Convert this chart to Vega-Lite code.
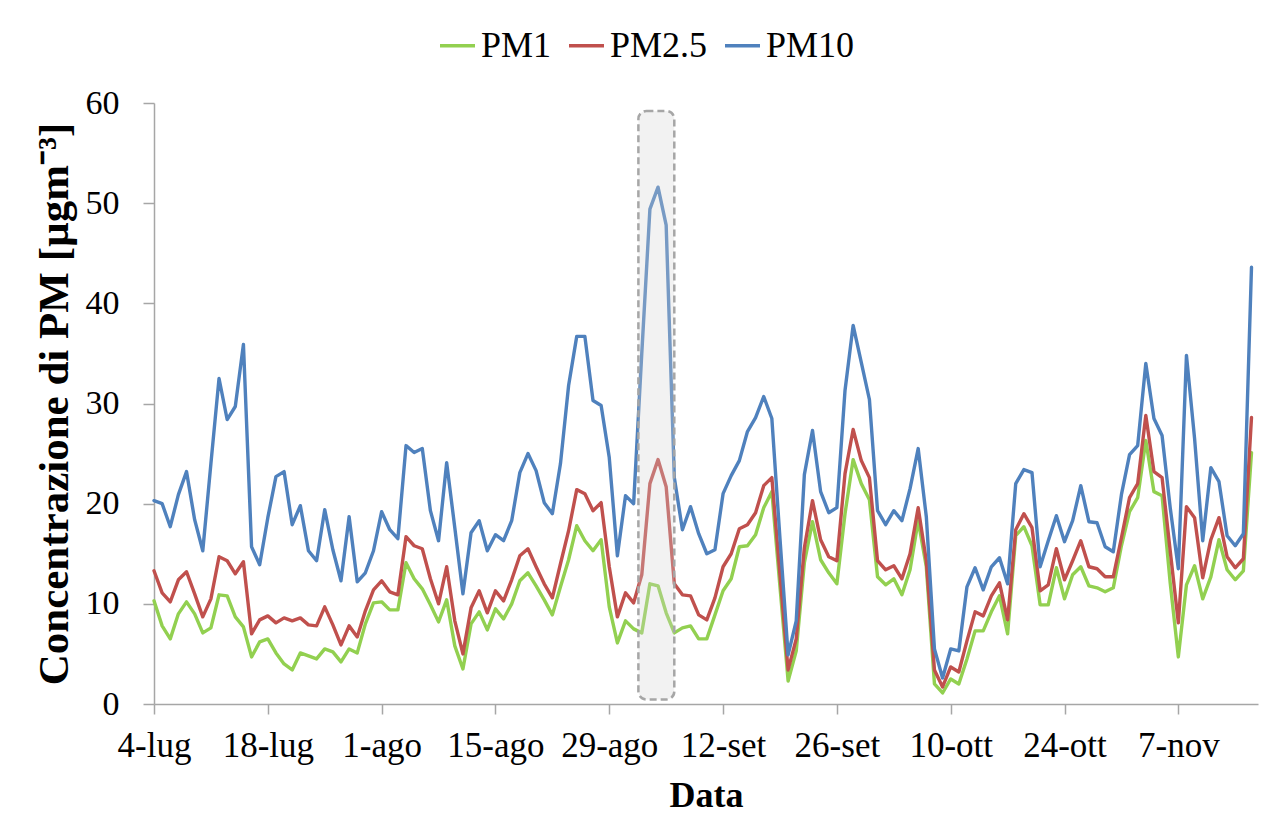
{
  "$schema": "https://vega.github.io/schema/vega-lite/v6.json",
  "autosize": {"type": "none"},
  "width": 1104,
  "height": 601,
  "padding": {"left": 154, "top": 103, "right": 7, "bottom": 130},
  "background": "white",
  "config": {
    "view": {"stroke": null},
    "font": "Liberation Serif",
    "axis": {"grid": false, "domainColor": "#a6a6a6", "tickColor": "#a6a6a6", "domainWidth": 1.5, "tickWidth": 1.5, "labelColor": "#000000", "titleColor": "#000000", "labelFont": "Liberation Serif", "titleFont": "Liberation Serif"}
  },
  "layer": [
    {
      "data": {"values": [
        {"d":"2023-07-04","PM1":10.3,"PM25":13.3,"PM10":20.3},
        {"d":"2023-07-05","PM1":7.8,"PM25":11.1,"PM10":20.0},
        {"d":"2023-07-06","PM1":6.5,"PM25":10.2,"PM10":17.7},
        {"d":"2023-07-07","PM1":9.0,"PM25":12.4,"PM10":20.9},
        {"d":"2023-07-08","PM1":10.2,"PM25":13.2,"PM10":23.2},
        {"d":"2023-07-09","PM1":9.0,"PM25":11.0,"PM10":18.4},
        {"d":"2023-07-10","PM1":7.1,"PM25":8.7,"PM10":15.3},
        {"d":"2023-07-11","PM1":7.6,"PM25":10.5,"PM10":24.0},
        {"d":"2023-07-12","PM1":10.9,"PM25":14.7,"PM10":32.5},
        {"d":"2023-07-13","PM1":10.8,"PM25":14.3,"PM10":28.4},
        {"d":"2023-07-14","PM1":8.7,"PM25":13.0,"PM10":29.7},
        {"d":"2023-07-15","PM1":7.7,"PM25":14.2,"PM10":35.9},
        {"d":"2023-07-16","PM1":4.7,"PM25":7.0,"PM10":15.7},
        {"d":"2023-07-17","PM1":6.2,"PM25":8.4,"PM10":13.9},
        {"d":"2023-07-18","PM1":6.5,"PM25":8.8,"PM10":18.6},
        {"d":"2023-07-19","PM1":5.1,"PM25":8.1,"PM10":22.7},
        {"d":"2023-07-20","PM1":4.0,"PM25":8.6,"PM10":23.2},
        {"d":"2023-07-21","PM1":3.4,"PM25":8.3,"PM10":17.9},
        {"d":"2023-07-22","PM1":5.1,"PM25":8.6,"PM10":19.8},
        {"d":"2023-07-23","PM1":4.8,"PM25":7.9,"PM10":15.3},
        {"d":"2023-07-24","PM1":4.5,"PM25":7.8,"PM10":14.3},
        {"d":"2023-07-25","PM1":5.5,"PM25":9.7,"PM10":19.4},
        {"d":"2023-07-26","PM1":5.2,"PM25":7.9,"PM10":15.4},
        {"d":"2023-07-27","PM1":4.2,"PM25":5.9,"PM10":12.3},
        {"d":"2023-07-28","PM1":5.5,"PM25":7.8,"PM10":18.7},
        {"d":"2023-07-29","PM1":5.1,"PM25":6.7,"PM10":12.2},
        {"d":"2023-07-30","PM1":8.0,"PM25":9.3,"PM10":13.1},
        {"d":"2023-07-31","PM1":10.1,"PM25":11.4,"PM10":15.3},
        {"d":"2023-08-01","PM1":10.2,"PM25":12.3,"PM10":19.2},
        {"d":"2023-08-02","PM1":9.4,"PM25":11.2,"PM10":17.4},
        {"d":"2023-08-03","PM1":9.4,"PM25":10.9,"PM10":16.5},
        {"d":"2023-08-04","PM1":14.1,"PM25":16.7,"PM10":25.8},
        {"d":"2023-08-05","PM1":12.5,"PM25":15.8,"PM10":25.1},
        {"d":"2023-08-06","PM1":11.5,"PM25":15.5,"PM10":25.5},
        {"d":"2023-08-07","PM1":9.9,"PM25":12.5,"PM10":19.3},
        {"d":"2023-08-08","PM1":8.2,"PM25":10.0,"PM10":16.3},
        {"d":"2023-08-09","PM1":10.4,"PM25":13.7,"PM10":24.1},
        {"d":"2023-08-10","PM1":5.8,"PM25":8.3,"PM10":17.6},
        {"d":"2023-08-11","PM1":3.5,"PM25":5.0,"PM10":11.0},
        {"d":"2023-08-12","PM1":8.0,"PM25":9.6,"PM10":17.1},
        {"d":"2023-08-13","PM1":9.2,"PM25":11.3,"PM10":18.3},
        {"d":"2023-08-14","PM1":7.4,"PM25":9.1,"PM10":15.3},
        {"d":"2023-08-15","PM1":9.5,"PM25":11.3,"PM10":16.9},
        {"d":"2023-08-16","PM1":8.5,"PM25":10.3,"PM10":16.3},
        {"d":"2023-08-17","PM1":10.0,"PM25":12.4,"PM10":18.3},
        {"d":"2023-08-18","PM1":12.3,"PM25":14.8,"PM10":23.1},
        {"d":"2023-08-19","PM1":13.1,"PM25":15.5,"PM10":25.0},
        {"d":"2023-08-20","PM1":11.8,"PM25":13.7,"PM10":23.3},
        {"d":"2023-08-21","PM1":10.4,"PM25":12.0,"PM10":20.1},
        {"d":"2023-08-22","PM1":8.9,"PM25":10.6,"PM10":19.0},
        {"d":"2023-08-23","PM1":11.7,"PM25":14.0,"PM10":24.0},
        {"d":"2023-08-24","PM1":14.4,"PM25":17.3,"PM10":31.8},
        {"d":"2023-08-25","PM1":17.8,"PM25":21.4,"PM10":36.7},
        {"d":"2023-08-26","PM1":16.3,"PM25":21.0,"PM10":36.7},
        {"d":"2023-08-27","PM1":15.3,"PM25":19.3,"PM10":30.3},
        {"d":"2023-08-28","PM1":16.4,"PM25":20.1,"PM10":29.8},
        {"d":"2023-08-29","PM1":9.7,"PM25":13.7,"PM10":24.6},
        {"d":"2023-08-30","PM1":6.1,"PM25":8.7,"PM10":14.8},
        {"d":"2023-08-31","PM1":8.3,"PM25":11.1,"PM10":20.8},
        {"d":"2023-09-01","PM1":7.5,"PM25":10.1,"PM10":20.0},
        {"d":"2023-09-02","PM1":7.1,"PM25":12.9,"PM10":35.0},
        {"d":"2023-09-03","PM1":12.0,"PM25":22.0,"PM10":49.4},
        {"d":"2023-09-04","PM1":11.8,"PM25":24.4,"PM10":51.6},
        {"d":"2023-09-05","PM1":9.1,"PM25":21.7,"PM10":47.8},
        {"d":"2023-09-06","PM1":7.1,"PM25":12.0,"PM10":22.6},
        {"d":"2023-09-07","PM1":7.6,"PM25":10.9,"PM10":17.4},
        {"d":"2023-09-08","PM1":7.8,"PM25":10.8,"PM10":19.7},
        {"d":"2023-09-09","PM1":6.5,"PM25":8.9,"PM10":17.0},
        {"d":"2023-09-10","PM1":6.5,"PM25":8.4,"PM10":15.0},
        {"d":"2023-09-11","PM1":8.9,"PM25":10.6,"PM10":15.4},
        {"d":"2023-09-12","PM1":11.3,"PM25":13.7,"PM10":21.0},
        {"d":"2023-09-13","PM1":12.5,"PM25":15.0,"PM10":22.8},
        {"d":"2023-09-14","PM1":15.7,"PM25":17.5,"PM10":24.3},
        {"d":"2023-09-15","PM1":15.8,"PM25":17.9,"PM10":27.2},
        {"d":"2023-09-16","PM1":16.9,"PM25":19.1,"PM10":28.6},
        {"d":"2023-09-17","PM1":19.6,"PM25":21.8,"PM10":30.7},
        {"d":"2023-09-18","PM1":21.2,"PM25":22.6,"PM10":28.5},
        {"d":"2023-09-19","PM1":11.7,"PM25":12.9,"PM10":16.5},
        {"d":"2023-09-20","PM1":2.3,"PM25":3.4,"PM10":4.9},
        {"d":"2023-09-21","PM1":5.3,"PM25":6.5,"PM10":8.3},
        {"d":"2023-09-22","PM1":14.1,"PM25":15.6,"PM10":22.9},
        {"d":"2023-09-23","PM1":18.2,"PM25":20.3,"PM10":27.3},
        {"d":"2023-09-24","PM1":14.4,"PM25":16.4,"PM10":21.2},
        {"d":"2023-09-25","PM1":13.1,"PM25":14.7,"PM10":19.1},
        {"d":"2023-09-26","PM1":12.0,"PM25":14.3,"PM10":19.6},
        {"d":"2023-09-27","PM1":19.0,"PM25":23.0,"PM10":31.3},
        {"d":"2023-09-28","PM1":24.4,"PM25":27.4,"PM10":37.8},
        {"d":"2023-09-29","PM1":22.0,"PM25":24.3,"PM10":34.1},
        {"d":"2023-09-30","PM1":20.4,"PM25":22.6,"PM10":30.4},
        {"d":"2023-10-01","PM1":12.7,"PM25":14.3,"PM10":19.3},
        {"d":"2023-10-02","PM1":11.9,"PM25":13.4,"PM10":17.9},
        {"d":"2023-10-03","PM1":12.5,"PM25":13.8,"PM10":19.3},
        {"d":"2023-10-04","PM1":10.9,"PM25":12.5,"PM10":18.3},
        {"d":"2023-10-05","PM1":13.4,"PM25":15.0,"PM10":21.5},
        {"d":"2023-10-06","PM1":18.3,"PM25":19.6,"PM10":25.5},
        {"d":"2023-10-07","PM1":13.7,"PM25":14.3,"PM10":18.7},
        {"d":"2023-10-08","PM1":2.0,"PM25":3.4,"PM10":5.5},
        {"d":"2023-10-09","PM1":1.1,"PM25":1.7,"PM10":2.6},
        {"d":"2023-10-10","PM1":2.5,"PM25":3.7,"PM10":5.5},
        {"d":"2023-10-11","PM1":2.0,"PM25":3.2,"PM10":5.3},
        {"d":"2023-10-12","PM1":4.5,"PM25":6.3,"PM10":11.7},
        {"d":"2023-10-13","PM1":7.3,"PM25":9.2,"PM10":13.6},
        {"d":"2023-10-14","PM1":7.3,"PM25":8.8,"PM10":11.4},
        {"d":"2023-10-15","PM1":9.2,"PM25":10.8,"PM10":13.7},
        {"d":"2023-10-16","PM1":10.8,"PM25":12.1,"PM10":14.6},
        {"d":"2023-10-17","PM1":7.0,"PM25":8.4,"PM10":12.0},
        {"d":"2023-10-18","PM1":16.8,"PM25":17.4,"PM10":22.0},
        {"d":"2023-10-19","PM1":17.7,"PM25":19.0,"PM10":23.4},
        {"d":"2023-10-20","PM1":15.8,"PM25":17.6,"PM10":23.1},
        {"d":"2023-10-21","PM1":9.9,"PM25":11.3,"PM10":13.7},
        {"d":"2023-10-22","PM1":9.9,"PM25":11.9,"PM10":16.3},
        {"d":"2023-10-23","PM1":13.6,"PM25":15.5,"PM10":18.8},
        {"d":"2023-10-24","PM1":10.5,"PM25":12.4,"PM10":16.2},
        {"d":"2023-10-25","PM1":12.9,"PM25":14.3,"PM10":18.3},
        {"d":"2023-10-26","PM1":13.7,"PM25":16.3,"PM10":21.8},
        {"d":"2023-10-27","PM1":11.8,"PM25":13.7,"PM10":18.2},
        {"d":"2023-10-28","PM1":11.6,"PM25":13.5,"PM10":18.1},
        {"d":"2023-10-29","PM1":11.2,"PM25":12.7,"PM10":15.7},
        {"d":"2023-10-30","PM1":11.6,"PM25":12.7,"PM10":15.2},
        {"d":"2023-10-31","PM1":15.8,"PM25":16.6,"PM10":20.9},
        {"d":"2023-11-01","PM1":19.2,"PM25":20.6,"PM10":24.9},
        {"d":"2023-11-02","PM1":20.6,"PM25":22.0,"PM10":25.8},
        {"d":"2023-11-03","PM1":26.3,"PM25":28.8,"PM10":34.0},
        {"d":"2023-11-04","PM1":21.2,"PM25":23.2,"PM10":28.5},
        {"d":"2023-11-05","PM1":20.8,"PM25":22.6,"PM10":26.8},
        {"d":"2023-11-06","PM1":12.1,"PM25":15.3,"PM10":19.6},
        {"d":"2023-11-07","PM1":4.7,"PM25":8.1,"PM10":13.5},
        {"d":"2023-11-08","PM1":11.9,"PM25":19.7,"PM10":34.8},
        {"d":"2023-11-09","PM1":13.8,"PM25":18.6,"PM10":26.5},
        {"d":"2023-11-10","PM1":10.5,"PM25":12.6,"PM10":16.3},
        {"d":"2023-11-11","PM1":12.7,"PM25":16.4,"PM10":23.6},
        {"d":"2023-11-12","PM1":16.4,"PM25":18.6,"PM10":22.2},
        {"d":"2023-11-13","PM1":13.4,"PM25":14.7,"PM10":16.8},
        {"d":"2023-11-14","PM1":12.4,"PM25":13.6,"PM10":15.8},
        {"d":"2023-11-15","PM1":13.3,"PM25":14.5,"PM10":17.0},
        {"d":"2023-11-16","PM1":25.1,"PM25":28.6,"PM10":43.6}
      ]},
      "transform": [{"fold": ["PM1", "PM25", "PM10"], "as": ["s", "v"]}],
      "mark": {"type": "line", "strokeWidth": 3.4, "strokeJoin": "round", "strokeCap": "round"},
      "encoding": {
        "x": {
          "field": "d", "type": "temporal",
          "scale": {"type": "utc", "domain": [1688428800000, 1700161920000]},
          "axis": {
            "title": "Data", "titleFontSize": 36, "titleFontWeight": "bold", "titlePadding": 15,
            "values": [1688428800000, 1689638400000, 1690848000000, 1692057600000, 1693267200000, 1694476800000, 1695686400000, 1696896000000, 1698105600000, 1699315200000],
            "labelExpr": "utcdate(datum.value) + '-' + ['gen','feb','mar','apr','mag','giu','lug','ago','set','ott','nov','dic'][utcmonth(datum.value)]",
            "labelFontSize": 35, "labelPadding": 14, "tickSize": 10, "labelOverlap": false, "labelFlush": false
          }
        },
        "y": {
          "field": "v", "type": "quantitative",
          "scale": {"domain": [0, 60], "nice": false},
          "axis": {
            "title": "Concentrazione di PM [µgm⁻³]", "titleFontSize": 43, "titleFontWeight": "bold", "titlePadding": 9,
            "values": [0, 10, 20, 30, 40, 50, 60],
            "labelFontSize": 34, "labelPadding": 24, "tickSize": 11
          }
        },
        "color": {
          "field": "s", "type": "nominal",
          "scale": {"domain": ["PM1", "PM25", "PM10"], "range": ["#92D050", "#C0504D", "#4F81BD"]},
          "legend": {
            "title": null, "orient": "none", "direction": "horizontal",
            "legendX": 284, "legendY": -77,
            "symbolType": "stroke", "symbolSize": 1225, "symbolStrokeWidth": 3.5,
            "labelFontSize": 36, "labelFont": "Liberation Serif", "labelColor": "#000000",
            "labelOffset": 4, "columnPadding": 10,
            "labelExpr": "datum.label == 'PM25' ? 'PM2.5' : datum.label"
          }
        },
        "order": {"field": "s", "sort": "ascending"}
      }
    },
    {
      "data": {"values": [{"a": "2023-09-01T14:00:00Z", "b": "2023-09-06T00:00:00Z", "y0": 0.45, "y1": 59.2}]},
      "mark": {"type": "rect", "fill": "#d4d4d4", "fillOpacity": 0.3, "stroke": "#a6a6a6", "strokeOpacity": 1, "strokeWidth": 2.5, "strokeDash": [7, 4], "cornerRadius": 8},
      "encoding": {
        "x": {"field": "a", "type": "temporal"},
        "x2": {"field": "b"},
        "y": {"field": "y0", "type": "quantitative"},
        "y2": {"field": "y1"}
      }
    }
  ]
}
